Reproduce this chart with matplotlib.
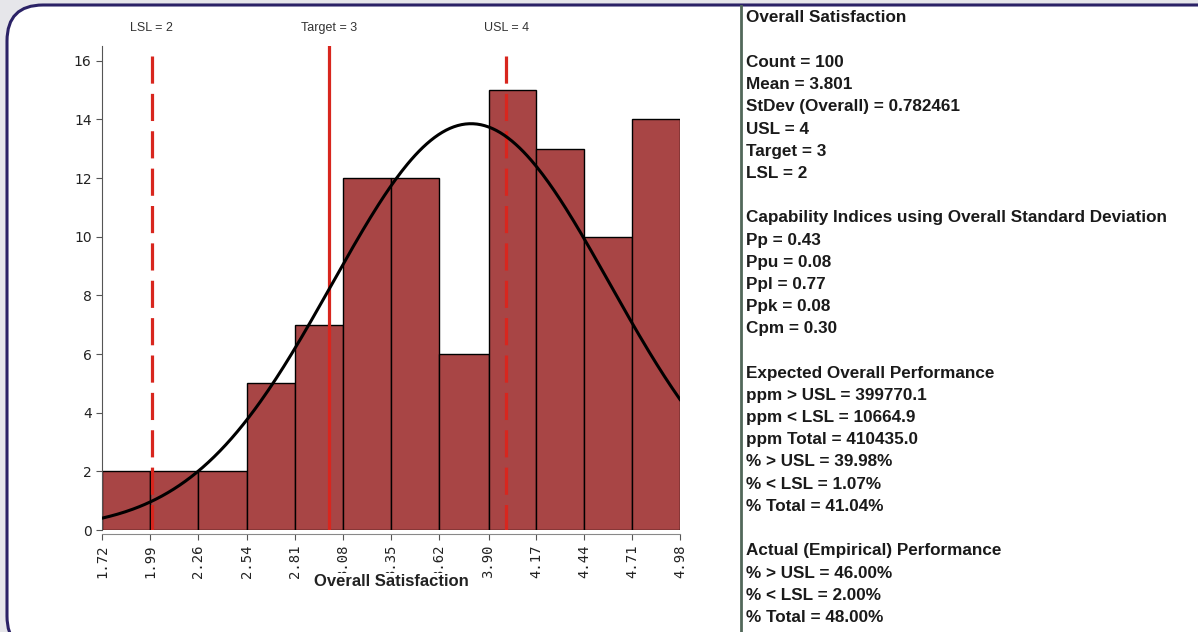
import matplotlib.pyplot as plt
from matplotlib.patches import FancyBboxPatch
import numpy as np

# histogram data
bin_edges = [1.72, 1.99, 2.26, 2.54, 2.81, 3.08, 3.35, 3.62, 3.90, 4.17, 4.44, 4.71, 4.98]
counts = [2, 2, 2, 5, 7, 12, 12, 6, 15, 13, 10, 14]
tick_labels = ["1.72", "1.99", "2.26", "2.54", "2.81", "3.08", "3.35", "3.62", "3.90", "4.17", "4.44", "4.71", "4.98"]

MEAN = 3.801
STDEV = 0.782461
COUNT = 100
LSL = 2
TARGET = 3
USL = 4

spec_names = ["LSL = 2", "Target = 3", "USL = 4"]
spec_values = [LSL, TARGET, USL]
spec_styles = ["dashed", "solid", "dashed"]
spec_tops = [16.17, 16.5, 16.17]

stats_lines = [
    "Overall Satisfaction", "",
    "Count = 100", "Mean = 3.801", "StDev (Overall) = 0.782461",
    "USL = 4", "Target = 3", "LSL = 2", "",
    "Capability Indices using Overall Standard Deviation",
    "Pp = 0.43", "Ppu = 0.08", "Ppl = 0.77", "Ppk = 0.08", "Cpm = 0.30", "",
    "Expected Overall Performance",
    "ppm > USL = 399770.1", "ppm < LSL = 10664.9", "ppm Total = 410435.0",
    "% > USL = 39.98%", "% < LSL = 1.07%", "% Total = 41.04%", "",
    "Actual (Empirical) Performance",
    "% > USL = 46.00%", "% < LSL = 2.00%", "% Total = 48.00%",
]

W, H = 1198, 632
fig = plt.figure(figsize=(W / 100, H / 100), dpi=100)
fig.patch.set_facecolor("#e6e6ea")

# rounded white panel with navy border (inches, origin bottom-left)
panel = FancyBboxPatch((0.07, -0.2), 12.3, 6.47, transform=fig.dpi_scale_trans,
                       boxstyle="round,pad=0,rounding_size=0.36",
                       facecolor="white", edgecolor="#2b2266", linewidth=2.2, zorder=-5)
fig.patches.append(panel)

# separator line
fig.add_artist(plt.Line2D([741 / W, 741 / W], [0, 1 - 6 / H], transform=fig.transFigure,
                          color="#52685a", linewidth=2, zorder=-4))

ax = fig.add_axes([102 / W, 1 - 530 / H, 578 / W, 484 / H])
ax.set_facecolor("none")
for s in ["top", "right"]:
    ax.spines[s].set_visible(False)
ax.spines["left"].set_color("#555555")
ax.spines["bottom"].set_color("#888888")
ax.spines["bottom"].set_position(("outward", 3))

widths = np.diff(bin_edges)
ax.bar(bin_edges[:-1], counts, width=widths, align="edge", color="#a84545",
       edgecolor="black", linewidth=1, zorder=2)

for name, val, style, top in zip(spec_names, spec_values, spec_styles, spec_tops):
    if style == "dashed":
        ax.plot([val, val], [top, 0], color="#d8261e", linewidth=2.3, dashes=(8.5, 3.2), zorder=3)
    else:
        ax.plot([val, val], [top, 0], color="#d8261e", linewidth=2.3, zorder=3)
    ax.text(val, 17.1, name, ha="center", va="center", fontsize=9, color="#333333",
            family="Liberation Sans")

bin_w = (bin_edges[-1] - bin_edges[0]) / len(counts)
xs = np.linspace(bin_edges[0], bin_edges[-1], 300)
ys = COUNT * bin_w / (STDEV * np.sqrt(2 * np.pi)) * np.exp(-0.5 * ((xs - MEAN) / STDEV) ** 2)
ax.plot(xs, ys, color="black", linewidth=2.2, zorder=4)

ax.set_xlim(bin_edges[0], bin_edges[-1])
ax.set_ylim(0, 16.5)
ax.set_xticks(bin_edges)
ax.set_xticklabels(tick_labels, rotation=90, fontsize=10, family="DejaVu Sans Mono", color="#222222")
ax.set_yticks(range(0, 17, 2))
ax.tick_params(axis="y", labelsize=10, colors="#222222", length=4, color="#555555")
ax.tick_params(axis="x", length=4, color="#555555")

# x label sits over the bottom of the tick labels, as in the original
fig.text(391 / W, 1 - 581 / H, "Overall Satisfaction", ha="center", va="center",
         fontsize=12, fontweight="bold", color="#222222", family="Liberation Sans", zorder=5,
         bbox=dict(facecolor="white", edgecolor="none", pad=0.5))

y0 = 18
for i, line in enumerate(stats_lines):
    if line:
        fig.text(746 / W, 1 - (y0 + i * 22.2) / H, line, ha="left", va="center",
                 fontsize=12.3, fontweight="bold", color="#1a1a1a", family="Liberation Sans")

fig.savefig("out.png", dpi=100, facecolor=fig.get_facecolor())
